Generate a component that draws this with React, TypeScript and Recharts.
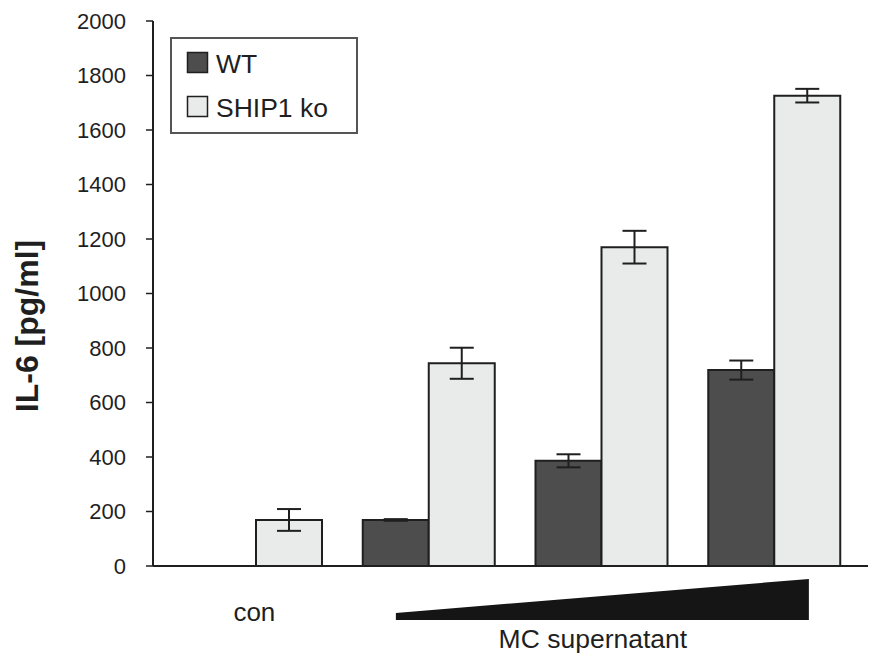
import { BarChart, Bar, XAxis, YAxis, ErrorBar } from "recharts"

const categories = ["con", "MC low", "MC mid", "MC high"]
const wtValues = [0, 169, 386, 719]
const wtErrors = [0, 3, 24, 35]
const shipValues = [169, 744, 1170, 1726]
const shipErrors = [40, 57, 60, 25]
const yTicks = [0, 200, 400, 600, 800, 1000, 1200, 1400, 1600, 1800, 2000]
const seriesNames = ["WT", "SHIP1 ko"]

const FONT = "'Liberation Sans', Arial, Helvetica, sans-serif"
const INK = "#1f1f1f"
const WT_FILL = "#4d4d4d"
const KO_FILL = "#e9ebea"

const data = categories.map((name, i) => ({
  name,
  wt: wtValues[i],
  wtErr: wtErrors[i],
  ship: shipValues[i],
  shipErr: shipErrors[i],
}))

function XTick(props: any) {
  const { x, y, index } = props
  if (index === 0) {
    return (
      <text x={x - 2} y={y + 55} textAnchor="middle" fontSize={26} fontFamily={FONT} fill={INK}>
        con
      </text>
    )
  }
  if (index === 2) {
    return (
      <g>
        <polygon
          points={`${x - 206},${y + 54} ${x - 206},${y + 47} ${x + 207},${y + 13} ${x + 207},${y + 54}`}
          fill="#151515"
        />
        <text x={x - 9} y={y + 82} textAnchor="middle" fontSize={26.5} fontFamily={FONT} fill={INK}>
          MC supernatant
        </text>
      </g>
    )
  }
  return <g />
}

// legend drawn as an overlay so it doesn't eat into the plot area
function LegendBox() {
  const rows = [
    { label: seriesNames[0], fill: WT_FILL, top: 15 },
    { label: seriesNames[1], fill: KO_FILL, top: 59 },
  ]
  return (
    <svg width={188} height={97} style={{ position: "absolute", left: 170, top: 37 }}>
      <rect x={1} y={1} width={186} height={95} fill="#fff" stroke="#555" strokeWidth={2} />
      {rows.map((r) => (
        <g key={r.label}>
          <rect x={17.5} y={r.top + 0.5} width={20} height={20} fill={r.fill} stroke={INK} strokeWidth={1.5} />
          <text x={46} y={r.top + 21} fontSize={26.5} fontFamily={FONT} fill={INK}>
            {r.label}
          </text>
        </g>
      ))}
    </svg>
  )
}

export default function App() {
  return (
    <div style={{ position: "absolute", left: 0, top: 0, width: 869, height: 653, background: "#fff" }}>
      <BarChart
        width={869}
        height={653}
        data={data}
        margin={{ top: 21, right: 1, left: 0, bottom: 0 }}
        barGap={0}
      >
        <XAxis
          dataKey="name"
          height={87}
          padding={{ left: 17, right: 7 }}
          tickLine={false}
          tickSize={0}
          tickMargin={0}
          axisLine={{ stroke: INK, strokeWidth: 2 }}
          tick={<XTick />}
          interval={0}
        />
        <YAxis
          width={153}
          domain={[0, 2000]}
          ticks={yTicks}
          interval={0}
          tickSize={7}
          tickMargin={20}
          axisLine={{ stroke: INK, strokeWidth: 2 }}
          tickLine={{ stroke: INK, strokeWidth: 1.5 }}
          tick={{ fontSize: 22, fontFamily: FONT, fill: INK }}
          label={{
            content: () => (
              <text
                x={27}
                y={326}
                transform="rotate(-90 27 326)"
                textAnchor="middle"
                dominantBaseline="central"
                fontSize={32}
                fontWeight="bold"
                fontFamily={FONT}
                fill={INK}
              >
                IL-6 [pg/ml]
              </text>
            ),
          }}
        />
        <Bar dataKey="wt" name={seriesNames[0]} fill={WT_FILL} stroke={INK} strokeWidth={2} barSize={66} isAnimationActive={false}>
          <ErrorBar dataKey="wtErr" width={12} stroke={INK} strokeWidth={2} />
        </Bar>
        <Bar dataKey="ship" name={seriesNames[1]} fill={KO_FILL} stroke={INK} strokeWidth={2} barSize={66} isAnimationActive={false}>
          <ErrorBar dataKey="shipErr" width={12} stroke={INK} strokeWidth={2} />
        </Bar>
      </BarChart>
      <LegendBox />
    </div>
  )
}
